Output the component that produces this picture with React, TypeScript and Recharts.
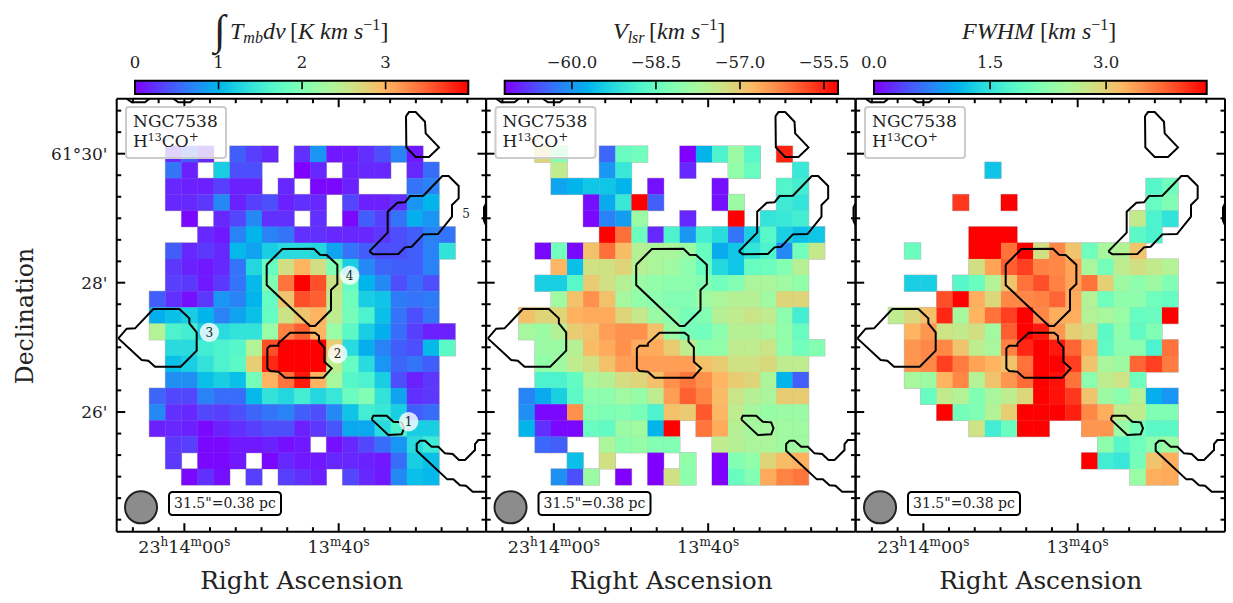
import React from 'react';
import { ScatterChart, Scatter, XAxis, YAxis, ReferenceArea } from 'recharts';

const _ = null;

// Moment 0: integrated intensity, K km/s
const integratedIntensity = [
  [_,.2,.48,.2,_,.48,.32,.2,_,.24,.8,.12,.12,.24,.4,.68,.12,_,_],
  [_,.6,.16,_,1.2,.4,.4,_,_,0,.2,_,.16,.2,.2,_,.2,.56,_],
  [_,.2,.16,.16,.32,.16,.16,_,.2,_,.04,.04,.16,_,_,_,.6,.68,_],
  [_,.2,.2,.28,.72,.16,.32,.4,.16,.24,.2,_,.36,.16,.16,.24,.8,1.0,_],
  [_,_,.04,_,.2,.36,.72,.24,.24,_,.24,_,.04,.48,.32,.6,.96,.8,_],
  [_,_,_,.2,.12,.68,1.0,.68,.6,.24,.24,.2,.2,.2,.28,.4,.48,.68,.6],
  [_,.48,.2,.28,.2,1.04,.88,1.2,1.32,1.32,1.28,.88,.6,.48,.4,.4,.48,.68,1.4],
  [_,.28,.16,.12,.2,.6,1.28,1.8,2.64,3.0,2.64,2.0,1.2,.72,.52,.48,.48,.68,_],
  [_,.32,.28,.12,.28,.6,1.04,2.0,3.4,4.0,3.6,2.6,1.8,1.0,.72,.4,.56,.4,_],
  [.48,.24,.08,.28,.8,.68,1.0,1.8,2.88,3.6,3.52,2.52,1.88,1.2,1.12,.64,.6,.64,_],
  [.96,1.08,1.2,1.0,.68,.88,1.08,1.8,2.6,2.88,3.0,2.48,1.92,1.6,1.08,.6,.4,.6,_],
  [2.4,1.6,1.52,1.2,1.32,1.4,1.4,2.2,3.32,3.52,3.0,2.2,1.72,1.2,.96,.56,.32,.16,.16],
  [_,1.32,1.32,1.52,1.6,1.68,2.4,3.6,4,4,4,2.8,1.32,.96,.68,.48,.4,1.04,1.72],
  [_,1.08,1.2,1.4,1.6,1.72,2.8,3.8,4,4,4,2.48,1.8,1.32,.8,.52,.6,.48,_],
  [_,.76,.76,1.08,1.2,1.08,1.92,3.0,3.4,3.88,3.0,2.32,1.68,1.6,1.2,.4,.16,.28,_],
  [.52,.36,.36,.68,.56,.56,1.04,1.4,1.28,1.52,1.28,1.44,1.84,2.0,1.4,.88,.24,.28,_],
  [.72,.24,.2,.36,.32,.4,.52,.6,.68,.48,.4,.72,1.12,1.52,1.44,1.2,.48,.56,_],
  [.16,.2,.16,.04,.16,.24,.32,.4,.4,.16,.28,.44,.92,.92,1.32,1.6,1.2,1.2,_],
  [_,.28,.32,.04,.04,.12,.12,.16,.08,.12,_,.08,.2,.36,.56,.8,1.32,1.48,_],
  [_,.28,_,.04,.04,.12,_,.04,.2,.12,.12,.2,.2,.16,.12,.56,1.2,1.08,_],
  [_,_,.04,.24,.08,_,.32,_,.32,.24,.16,_,.36,.2,.12,.72,1.08,1.04,_],
];

// Moment 1: centroid velocity, km/s
const velocityLsr = [
  [_,-57.12,-58.2,_,_,-60.42,-58.5,-58.38,_,_,-61.2,-59.7,-58.8,-57.9,-58.68,_,-55.5,_,_],
  [_,_,-57.48,_,_,-60,-59.04,_,_,_,-60.9,_,_,-58.02,-58.5,_,_,-59.04,_],
  [_,_,-59.88,-59.7,-59.52,-59.52,-59.7,_,-61.08,_,_,_,-61.08,_,_,_,-58.74,-58.92,_],
  [_,_,_,_,-61.08,-59.82,-59.04,-55.2,-60.48,_,_,_,-61.08,-57.9,_,_,-58.98,-59.1,_],
  [_,_,_,_,-61.14,-60.18,-59.94,-57.9,_,_,-60.9,_,_,-55.2,_,-59.1,-59.04,-58.92,_],
  [_,_,_,_,_,-55.2,-56.1,-58.44,-60.9,-58.8,-60,-58.92,-59.22,-60.3,-59.4,-58.68,-59.4,-59.58,-59.52],
  [_,-61.14,-58.38,-61.14,-56.88,-56.1,-56.82,-57.6,-57.72,-57.72,-57.9,-58.5,-59.82,-59.52,-59.1,-58.8,-60.12,-58.38,-57.42],
  [_,_,-56.76,-59.58,-57.3,-57.3,-57.12,-57.6,-57.72,-57.84,-58.08,-58.5,-59.28,-59.52,-58.5,-58.44,-58.2,-57.6,_],
  [_,-59.4,-59.4,-58.68,-57,-57.3,-57.6,-57.9,-58.02,-58.08,-58.08,-58.2,-58.38,-58.2,-57.72,-57.72,-57.84,-58.02,_],
  [_,_,-57.84,-56.88,-56.4,-56.88,-57.78,-58.02,-58.08,-58.2,-58.2,-57.84,-57.72,-57.6,-57.6,-57.84,-57.12,-57.12,_],
  [-56.88,-57.12,-57.12,-56.7,-56.64,-56.64,-57.12,-57.42,-57.9,-58.08,-58.32,-58.2,-57.6,-57.48,-57.36,-57.48,-58.08,-58.92,_],
  [-57.78,-57.9,-57.6,-57,-56.88,-56.52,-56.4,-56.4,-56.88,-57.9,-58.32,-58.38,-58.08,-57.6,-57.6,-57.72,-58.02,-58.5,_],
  [_,-57.9,-57.9,-57.6,-56.82,-56.64,-56.4,-56.64,-56.64,-57,-57.48,-58.08,-58.02,-57.48,-57.48,-57.36,-58.02,-58.38,-58.2],
  [_,-58.02,-57.84,-57.48,-57.3,-56.88,-56.52,-56.52,-56.52,-56.52,-56.52,-56.88,-57,-57.3,-57.3,-57.18,-57.48,-57.48,_],
  [_,-58.8,-58.8,-58.56,-57.72,-57.6,-57.24,-57.12,-56.88,-56.4,-56.16,-56.4,-56.76,-57,-57.12,-57.72,-59.7,-60.48,_],
  [-60.18,-59.82,-59.4,-58.62,-58.08,-58.08,-57.84,-57.96,-57.48,-56.52,-55.98,-56.28,-56.82,-57.36,-57.6,-57.72,-57,-57,_],
  [-60.06,-61.14,-61.14,-56.4,-58.2,-58.26,-58.2,-58.32,-58.8,-56.88,-57,-55.92,-56.76,-57.48,-57.78,-57.96,-57.9,-57.9,_],
  [-59.7,-60.84,-61.14,-61.14,-58.5,-58.56,-57.9,-57.84,-59.7,-55.2,_,-56.16,-56.64,-57.6,-57.78,-57.78,-57.84,-57.84,_],
  [_,-60.42,-60.48,_,_,-57.72,-58.08,-57.96,-58.2,-58.2,_,_,-57.48,-57.6,-57.72,-57.72,-57.84,-57.84,_],
  [_,_,_,-59.58,_,-57.3,_,_,-61.2,_,-58.02,_,-61.2,-58.2,-58.02,-57.12,-56.82,-56.7,_],
  [_,_,-60.06,-60.6,-57.9,_,-61.2,_,-61.2,-57.3,-58.08,_,-61.2,-58.5,-58.2,-56.64,-56.28,-56.16,_],
];

// Moment 2: line width, km/s
const fwhm = [
  [_,_,_,_,_,_,_,_,_,_,_,_,_,_,_,_,_,_,_],
  [_,_,_,_,_,_,1.2,_,_,_,_,_,_,_,_,_,_,_,_],
  [_,_,_,_,_,_,_,_,_,_,_,_,_,_,_,_,1.81,2.02,_],
  [_,_,_,_,4.0,_,_,4.3,_,_,_,_,_,_,_,_,1.94,2.15,_],
  [_,_,_,_,_,_,_,_,_,_,_,_,_,_,_,2.71,1.72,1.5,_],
  [_,_,_,_,_,4.3,4.3,4.3,_,_,_,_,_,_,_,1.85,1.72,_,_],
  [_,1.98,_,_,_,4.3,4.3,3.66,4.3,2.84,3.53,3.1,2.02,2.49,2.58,3.1,_,_,_],
  [_,_,_,_,_,2.84,3.35,3.78,3.96,3.57,3.53,3.35,2.49,2.06,2.67,2.84,2.71,2.58,_],
  [_,1.29,1.29,_,1.81,1.98,2.58,3.1,3.66,3.87,3.57,3.35,3.66,3.01,2.41,2.28,2.41,2.15,_],
  [_,_,_,3.87,4.3,3.27,2.92,3.53,3.53,3.57,3.74,3.31,2.58,2.02,2.28,2.28,2.02,1.94,_],
  [2.67,2.92,3.14,4.09,2.49,3.23,3.66,3.96,4.3,3.53,3.27,3.27,2.58,2.49,2.37,1.94,1.98,4.3,_],
  [_,3.23,3.44,2.8,2.71,2.84,2.45,3.78,4.3,4.17,3.44,3.01,2.84,1.85,2.28,1.89,2.15,_,_],
  [_,3.44,3.53,3.53,3.1,2.67,2.49,3.57,4.09,4.3,4.17,3.74,3.27,1.89,2.24,2.24,1.72,3.66,_],
  [_,3.44,3.53,3.96,3.61,3.35,3.23,3.1,3.66,4.3,4.3,3.96,3.1,2.49,2.41,3.74,3.96,3.61,_],
  [_,2.49,2.41,3.23,3.53,2.58,3.1,3.44,3.7,4.3,4.21,3.66,2.24,2.67,2.8,2.02,_,_,_],
  [_,_,1.94,2.71,2.58,2.15,2.49,2.67,2.92,4.3,4.21,4.0,3.1,2.41,2.24,2.58,1.03,.86,_],
  [_,_,_,4.3,2.06,2.15,2.58,3.01,4.3,4.3,4.3,4.13,3.53,3.27,2.67,2.67,2.15,2.15,_],
  [_,_,_,_,_,2.8,1.63,1.98,4.3,4.3,_,_,3.44,3.44,2.37,2.06,1.85,1.85,_],
  [_,_,_,_,_,_,_,_,_,_,_,_,_,2.28,1.81,2.02,2.24,2.37,_],
  [_,_,_,_,_,_,_,_,_,_,_,_,4.3,1.63,1.55,2.06,3.1,3.27,_],
  [_,_,_,_,_,_,_,_,_,_,_,_,_,_,_,2.37,3.27,3.31,_],
];

// Contours and markers, in the sky-grid coordinate of the axes
const contourTopLeft = [[50,26],[65,37],[105,37],[118,26]];
const contourTopMiddle = [[190,26],[205,37],[240,37],[252,26]];
const contourNorth = [[888,78],[897,66],[917,66],[945,95],[947,130],[987,172],[957,201],[917,201],[889,172],[888,78]];
const contourRidge = [[778,484],[833,428],[833,365],[862,338],[885,337],[900,318],[940,317],[997,258],[1016,258],[1046,288],[1046,325],[1026,345],[1026,380],[984,432],[940,433],[905,470],[885,472],[865,492],[790,493],[778,484]];
const contourCore4 = [[470,524],[517,477],[612,476],[630,494],[650,495],[682,524],[682,582],[663,600],[663,660],[615,708],[600,708],[470,585],[470,524]];
const contourCore2 = [[505,760],[540,728],[615,728],[627,738],[627,755],[643,772],[643,815],[665,835],[640,863],[525,863],[505,845],[480,843],[472,835],[472,775],[480,767],[505,767],[505,760]];
const contourCore3 = [[25,745],[50,716],[75,715],[130,657],[208,657],[238,685],[238,700],[260,727],[260,782],[212,830],[135,830],[115,812],[95,810],[25,745]];
const contourCore1 = [[785,988],[790,977],[830,977],[850,995],[875,997],[882,1015],[875,1033],[835,1035],[785,988]];
const contourSouth = [[1128,1050],[1105,1050],[1095,1062],[1095,1080],[1065,1110],[1047,1110],[1028,1092],[1005,1090],[985,1070],[965,1070],[945,1052],[930,1052],[920,1062],[920,1082],[1012,1168],[1030,1168],[1050,1186],[1068,1187],[1088,1205],[1128,1205]];
const contourEast = [[1128,340],[1122,352],[1122,392],[1128,405]];
const contours = [contourTopLeft, contourTopMiddle, contourNorth, contourRidge, contourCore4, contourCore2, contourCore3, contourCore1, contourSouth, contourEast];

const markers = [
  { x: 896, y: 995, label: '1', halo: true },
  { x: 683, y: 791, label: '2', halo: true },
  { x: 298, y: 727, label: '3', halo: true },
  { x: 719, y: 556, label: '4', halo: true },
  { x: 1068, y: 370, label: '5', halo: false },
];
const beamCentre = [{ x: 93, y: 1252 }];

// Axis ticks
const raMajor = [223, 686];
const raMinor = [68.6, 145.8, 300, 377.2, 454.4, 531.6, 608.8, 763.2, 840.4, 917.6, 994.8, 1072];
const decMajor = [191, 578, 966];
const decMinor = [61.8, 126.4, 255.6, 320.2, 384.8, 449.4, 514, 642.6, 707.2, 771.8, 836.4, 901, 1030.6, 1095.2, 1159.8, 1224.4, 1289];
const raLabels: Record<number, [string, string][]> = {
  223: [['23','h'],['14','m'],['00','s']],
  686: [['13','m'],['40','s']],
};
const decLabels: Record<number, string> = { 191: "61°30'", 578: "28'", 966: "26'" };

// Colour bars
const bars = [
  { id: 'cb0', min: 0, max: 3.99, ticks: [0, 1, 2, 3], labels: ['0', '1', '2', '3'], left: 135, right: 468.3 },
  { id: 'cb1', min: -61.2, max: -55.25, ticks: [-60, -58.5, -57, -55.5], labels: ['−60.0', '−58.5', '−57.0', '−55.5'], left: 504.7, right: 838 },
  { id: 'cb2', min: 0, max: 4.3, ticks: [0, 1.5, 3], labels: ['0.0', '1.5', '3.0'], left: 874, right: 1206.7 },
];

const SERIF = '"DejaVu Serif", serif';
const MATH = '"Liberation Serif", serif';
const UNIT = 1 / 3; // px per sky-grid unit
const GRID_X0 = 118, GRID_Y0 = 168, GRID_DX = 48.3, GRID_DY = 48.43;
const PANEL_W = 369.3, PANEL_TOP = 98.7, PANEL_BOTTOM = 531.7, FIRST_LEFT = 116.7, PANEL_STEP = 369.5;

function rainbow(t: number) {
  const c = Math.max(0, Math.min(1, t));
  const r = Math.min(1, Math.abs(2 * c - 0.5));
  const g = Math.sin(Math.PI * c);
  const b = Math.cos((Math.PI * c) / 2);
  const h = (v: number) => Math.round(v * 255);
  return `rgb(${h(r)},${h(g)},${h(b)})`;
}

function cells(rows: (number | null)[][], min: number, max: number) {
  const out: { x: number; y: number; fill: string }[] = [];
  rows.forEach((row, r) =>
    row.forEach((v, c) => {
      if (v === null) return;
      out.push({
        x: GRID_X0 + (c + 0.5) * GRID_DX,
        y: GRID_Y0 + (r + 0.5) * GRID_DY,
        fill: rainbow((v - min) / (max - min)),
      });
    })
  );
  return out;
}

const CellShape = (p: any) => {
  const w = GRID_DX * UNIT, h = GRID_DY * UNIT;
  return <rect x={p.cx - w / 2 - 0.1} y={p.cy - h / 2 - 0.1} width={w + 0.2} height={h + 0.2} fill={p.payload.fill} />;
};
const CellEdge = (p: any) => {
  const w = GRID_DX * UNIT, h = GRID_DY * UNIT;
  return <rect x={p.cx - w / 2 - 0.6} y={p.cy - h / 2 - 0.6} width={w + 1.2} height={h + 1.2} fill="#bcbcbc" />;
};
const NoDot = () => <g />;
const MarkerShape = (p: any) => (
  <g>
    {p.payload.halo && <circle cx={p.cx} cy={p.cy} r={9.7} fill="#fff" fillOpacity={0.8} />}
    <text x={p.cx} y={p.cy + 4.2} textAnchor="middle" fontFamily={SERIF} fontSize={12} fill="#222">{p.payload.label}</text>
  </g>
);
const BeamShape = (p: any) => <circle cx={p.cx} cy={p.cy} r={16} fill="#8c8c8c" stroke="#222" strokeWidth={2} />;

const inTick = (dir: 'b' | 't' | 'l' | 'r', labelled: boolean, edge: number) => (p: any) => {
  const v = p.payload.value;
  const len = raMajor.includes(v) || decMajor.includes(v) ? 8.5 : 4.5;
  const common = { stroke: '#000', strokeWidth: 2 };
  if (dir === 'b' || dir === 't') {
    const d = dir === 'b' ? -len : len;
    const parts = raLabels[v];
    return (
      <g>
        <line x1={p.x} x2={p.x} y1={edge} y2={edge + d} {...common} />
        {labelled && parts && (
          <text x={p.x} y={552.7} textAnchor="middle" fontFamily={SERIF} fontSize={17.5} fill="#222">
            {parts.map(([a, b], i) => (
              <React.Fragment key={i}>
                <tspan dy={i ? 6.5 : 0}>{a}</tspan>
                <tspan fontSize={12} dy={-6.5}>{b}</tspan>
              </React.Fragment>
            ))}
          </text>
        )}
      </g>
    );
  }
  const d = dir === 'l' ? len : -len;
  return (
    <g>
      <line x1={edge} x2={edge + d} y1={p.y} y2={p.y} {...common} />
      {labelled && decLabels[v] && (
        <text x={107.5} y={p.y + 6} textAnchor="end" fontFamily={SERIF} fontSize={17} fill="#222">{decLabels[v]}</text>
      )}
    </g>
  );
};

function Panel({ index, rows, min, max, showMarkers }: { index: number; rows: (number | null)[][]; min: number; max: number; showMarkers: boolean }) {
  const left = FIRST_LEFT + index * PANEL_STEP;
  const right = left + PANEL_W;
  const data = cells(rows, min, max);
  const axisLine = { stroke: '#000', strokeWidth: 2 };
  const xTicks = [...raMinor, ...raMajor].sort((a, b) => a - b);
  const yTicks = [...decMinor, ...decMajor].sort((a, b) => a - b);
  return (
    <div style={{ position: 'absolute', left: 0, top: 0 }}>
      <ScatterChart width={1233} height={603} margin={{ left: left - 1, right: 1233 - right - 1, top: PANEL_TOP - 1, bottom: 603 - PANEL_BOTTOM - 1 }}>
        <Scatter xAxisId="b" yAxisId="l" data={data} shape={CellEdge} isAnimationActive={false} />
        <Scatter xAxisId="b" yAxisId="l" data={data} shape={CellShape} isAnimationActive={false} />
        {contours.map((c, i) => (
          <Scatter key={i} xAxisId="b" yAxisId="l" data={c.map(([x, y]) => ({ x, y }))} shape={NoDot} line={{ stroke: '#000', strokeWidth: 2 }} isAnimationActive={false} />
        ))}
        {showMarkers && <Scatter xAxisId="b" yAxisId="l" data={markers} shape={MarkerShape} isAnimationActive={false} />}
        <Scatter xAxisId="b" yAxisId="l" data={beamCentre} shape={BeamShape} isAnimationActive={false} />
        <XAxis xAxisId="b" dataKey="x" type="number" domain={[20, 1128]} ticks={xTicks} interval={0} height={1} axisLine={axisLine} tickLine={false} tick={inTick('b', true, PANEL_BOTTOM)} allowDataOverflow />
        <XAxis xAxisId="t" orientation="top" dataKey="x" type="number" domain={[20, 1128]} ticks={xTicks} interval={0} height={1} axisLine={axisLine} tickLine={false} tick={inTick('t', false, PANEL_TOP)} allowDataOverflow />
        <YAxis yAxisId="l" dataKey="y" type="number" reversed domain={[26, 1325]} ticks={yTicks} interval={0} width={1} axisLine={axisLine} tickLine={false} tick={inTick('l', index === 0, left)} allowDataOverflow />
        <YAxis yAxisId="r" orientation="right" dataKey="y" type="number" reversed domain={[26, 1325]} ticks={yTicks} interval={0} width={1} axisLine={axisLine} tickLine={false} tick={inTick('r', false, right)} allowDataOverflow />
      </ScatterChart>
    </div>
  );
}

function ColorBar({ bar }: { bar: (typeof bars)[number] }) {
  const stops = Array.from({ length: 21 }, (_v, i) => i / 20);
  const tick = (p: any) => {
    const i = bar.ticks.indexOf(p.payload.value);
    return (
      <g>
        <line x1={p.x} x2={p.x} y1={82} y2={89.3} stroke="#000" strokeWidth={1.6} />
        <text x={p.x} y={68} textAnchor="middle" fontFamily={SERIF} fontSize={16.5} fill="#222">{bar.labels[i]}</text>
      </g>
    );
  };
  const extent = [{ x: bar.min, y: 0 }, { x: bar.max, y: 1 }];
  return (
    <div style={{ position: 'absolute', left: 0, top: 0 }}>
      <ScatterChart width={1233} height={603} margin={{ left: bar.left, right: 1233 - bar.right, top: 79.7, bottom: 603 - 94 }}>
        <defs>
          <linearGradient id={bar.id} x1="0" x2="1" y1="0" y2="0">
            {stops.map((s) => <stop key={s} offset={s} stopColor={rainbow(s)} />)}
          </linearGradient>
        </defs>
        <Scatter data={extent} shape={NoDot} isAnimationActive={false} />
        <ReferenceArea x1={bar.min} x2={bar.max} y1={0} y2={1} fill={`url(#${bar.id})`} fillOpacity={1} stroke="#000" strokeWidth={2} />
        <XAxis dataKey="x" orientation="top" type="number" domain={[bar.min, bar.max]} ticks={bar.ticks} interval={0} height={1} axisLine={false} tickLine={false} tick={tick} />
        <YAxis dataKey="y" hide type="number" domain={[0, 1]} />
      </ScatterChart>
    </div>
  );
}

function Overlay() {
  return (
    <svg width={1233} height={603} style={{ position: 'absolute', left: 0, top: 0 }}>
      {[0, 1, 2].map((i) => {
        const dx = i * PANEL_STEP;
        return (
          <g key={i} transform={`translate(${dx},0)`}>
            <circle cx={161.7} cy={134.3} r={7.5} fill="none" stroke="#bbb" strokeWidth={1.5} />
            <rect x={126} y={107} width={100} height={51} rx={3} fill="#fff" fillOpacity={0.8} stroke="#ccc" strokeWidth={2} />
            <text x={133} y={127} fontFamily={SERIF} fontSize={17} fill="#222">NGC7538</text>
            <text x={133} y={147} fontFamily={SERIF} fontSize={17} fill="#222">H<tspan fontSize={11} dy={-6}>13</tspan><tspan dy={6}>CO</tspan><tspan fontSize={12} dy={-6}>+</tspan></text>
            <rect x={169} y={492} width={112} height={23} rx={3.5} fill="#fff" stroke="#000" strokeWidth={2} />
            <text x={225} y={508} textAnchor="middle" fontFamily={SERIF} fontSize={14} fill="#222">31.5"=0.38 pc</text>
            <text x={301.7} y={589} textAnchor="middle" fontFamily={SERIF} fontSize={24.8} fill="#222">Right Ascension</text>
          </g>
        );
      })}
      <text transform="translate(33,316) rotate(-90)" textAnchor="middle" fontFamily={SERIF} fontSize={23.5} fill="#222">Declination</text>
      <g fontFamily={MATH} fontSize={24} fill="#222">
        <text x={214} y={44} fontSize={42} fontStyle="italic">∫</text>
        <text x={230} y={39} fontStyle="italic">T<tspan fontSize={16} dy={4}>mb</tspan><tspan dy={-4}>dv</tspan></text>
        <text x={290} y={39}>[<tspan fontStyle="italic">K km s</tspan><tspan fontSize={16} dy={-9}>−1</tspan><tspan dy={9}>]</tspan></text>
        <text x={613} y={39} fontStyle="italic">V<tspan fontSize={16} dy={4}>lsr</tspan></text>
        <text x={649} y={39}>[<tspan fontStyle="italic">km s</tspan><tspan fontSize={16} dy={-9}>−1</tspan><tspan dy={9}>]</tspan></text>
        <text x={962} y={39} fontStyle="italic">FWHM</text>
        <text x={1040} y={39}>[<tspan fontStyle="italic">km s</tspan><tspan fontSize={16} dy={-9}>−1</tspan><tspan dy={9}>]</tspan></text>
      </g>
    </svg>
  );
}

export default function App() {
  return (
    <div style={{ position: 'absolute', left: 0, top: 0, width: 1233, height: 603, overflow: 'hidden', background: '#fff' }}>
      <Panel index={0} rows={integratedIntensity} min={0} max={4} showMarkers />
      <Panel index={1} rows={velocityLsr} min={-61.2} max={-55.25} showMarkers={false} />
      <Panel index={2} rows={fwhm} min={0} max={4.3} showMarkers={false} />
      {bars.map((b) => <ColorBar key={b.id} bar={b} />)}
      <Overlay />
    </div>
  );
}
